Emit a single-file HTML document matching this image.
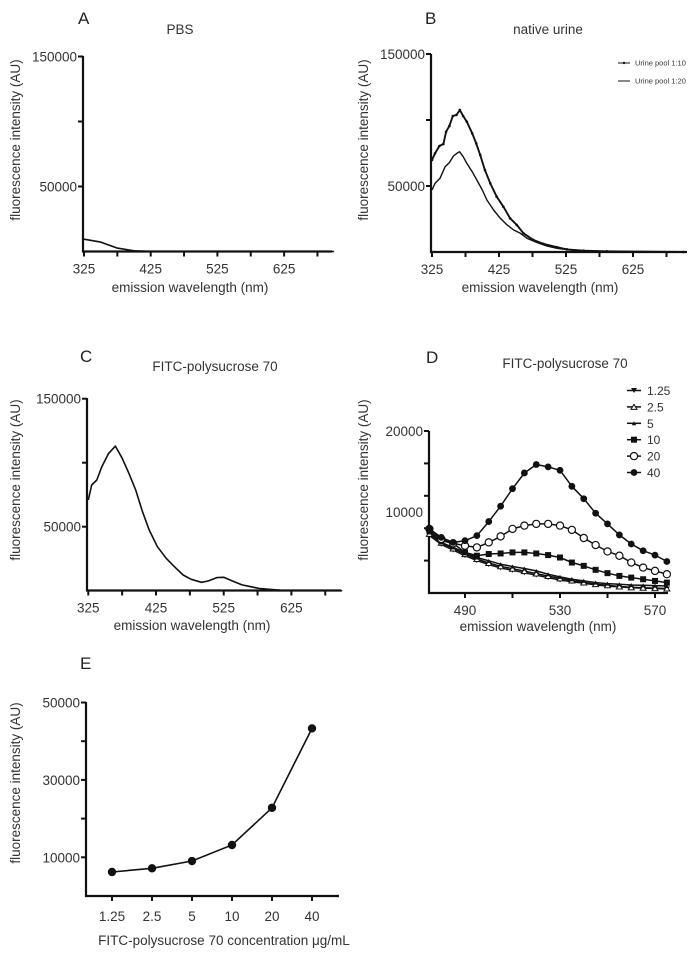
<!DOCTYPE html>
<html><head><meta charset="utf-8"><style>
html,body{margin:0;padding:0;background:#fff;}
svg{display:block;font-family:"Liberation Sans",Arial,sans-serif;}
.t{fill:#333;font-size:13.5px}
.tk{fill:#333;font-size:13.5px}
.pl{fill:#222;font-size:17px}
.lg{fill:#333;font-size:12px}
.lgs{fill:#333;font-size:7.5px}
</style></head><body>
<svg id="fig" width="700" height="958" viewBox="0 0 700 958" xmlns="http://www.w3.org/2000/svg"></svg>
<script>
// ---- data ----
const A_nm = [325,350,375,400,425,450,500,600,700];
const A_val = [9500,7200,2600,500,100,0,0,0,0];
const B10_nm = [325,329.5,336,342,346,351,356,361.5,366.5,371.5,377,385,391,397,404,412,421.5,431.5,441.5,451.5,461.5,476.5,491.5,511.5,526.5,551.5,586,700];
const B10_val = [69700,74700,80300,81800,91100,95500,103000,103800,107600,103000,98700,89900,82300,73500,62100,52000,41900,34300,25500,20500,14200,9100,6100,3600,2000,1000,500,0];
const B20_nm = [325,329.5,337,344.5,351,357,362,366,371.5,377,385,392,400,407,417,427,437,447,457,467,482,497,511.5,531.5,561.5,700];
const B20_val = [47000,52000,55800,64600,67700,72700,74700,76000,72200,67200,60800,54500,47000,39400,31800,25500,20500,16700,14200,10400,7100,4500,2800,1500,500,0];
const C_nm = [325,330,337.6,345,355,365,375,385,395,405,415,427,440,452,465,477,492,502,515,525,537,552,565,577,592,617,700];
const C_val = [70900,82600,86500,96900,107300,113000,103400,91700,78700,61700,47400,34400,25300,18800,12300,8900,6600,7600,10200,10500,7800,4500,3100,1800,1100,0,0];
const D_nm = [475,480,485,490,495,500,505,510,515,520,525,530,535,540,545,550,555,560,565,570,575];
const D_labels = ["1.25","2.5","5","10","20","40"];
const D_s125 = [7100,6000,5300,4600,4000,3500,3100,2800,2500,2200,1900,1600,1400,1200,1000,850,750,650,600,550,500];
const D_s25 = [7300,6200,5500,4800,4200,3700,3300,3000,2700,2400,2100,1800,1550,1300,1100,950,800,700,650,600,550];
const D_s5 = [7490,6250,5630,5010,4380,3970,3560,3270,3020,2730,2320,1990,1700,1490,1280,1160,1080,990,960,910,870];
const D_s10 = [7700,6460,6120,5010,4600,4810,4880,5010,5010,4880,4680,4380,3760,3350,2860,2450,2110,1900,1700,1490,1280];
const D_s20 = [7910,6670,6120,5840,5630,6250,6990,7910,8320,8530,8530,8320,7790,6790,5920,5130,4600,3760,3140,2730,2320];
const D_s40 = [7910,6870,6250,6460,7080,8820,10720,12880,14820,15860,15570,15150,13170,11640,9850,8530,7170,6050,5220,4680,3890];
const E_cats = ["1.25","2.5","5","10","20","40"];
const E_val = [6200,7150,9040,13180,22800,43300];

const svg = document.getElementById('fig');
const NS = 'http://www.w3.org/2000/svg';
function mk(tag, attrs, parent){ const e=document.createElementNS(NS,tag); for(const k in attrs) e.setAttribute(k,attrs[k]); (parent||svg).appendChild(e); return e; }
function txt(x,y,s,cls,anchor,name,parent,rot){ const e=mk('text',{x:x,y:y,class:cls,'text-anchor':anchor||'middle'},parent); if(rot) e.setAttribute('transform','rotate(-90 '+x+' '+y+')'); e.textContent=s;


return e; }
function lin(d0,d1,p0,p1){ return v => p0 + (v-d0)/(d1-d0)*(p1-p0); }

function marker(g,type,x,y,name){
  let e;
  if(type==='tdown') e=mk('path',{d:`M${x-3},${y-2.5}L${x+3},${y-2.5}L${x},${y+2.5}Z`,fill:'#111'},g);
  else if(type==='tup') e=mk('path',{d:`M${x-3},${y+2.5}L${x+3},${y+2.5}L${x},${y-2.5}Z`,fill:'#fff',stroke:'#111','stroke-width':1},g);
  else if(type==='tsmall') e=mk('path',{d:`M${x-2.2},${y+2}L${x+2.2},${y+2}L${x},${y-2}Z`,fill:'#111'},g);
  else if(type==='sq') e=mk('rect',{x:x-3,y:y-3,width:6,height:6,fill:'#111'},g);
  else if(type==='oc') e=mk('circle',{cx:x,cy:y,r:3.6,fill:'#fff',stroke:'#111','stroke-width':1.2},g);
  else if(type==='fc') e=mk('circle',{cx:x,cy:y,r:3.4,fill:'#111'},g);
  else if(type==='dot') e=mk('circle',{cx:x,cy:y,r:1.3,fill:'#111'},g);
  else if(type==='big') e=mk('circle',{cx:x,cy:y,r:4.2,fill:'#111'},g);
  
  
}

// generic spectrum panel
function panel(cfg){
  const g=mk('g',{});
  
  
  const X=lin(cfg.xd[0],cfg.xd[1],cfg.xp[0],cfg.xp[1]);
  const Y=lin(cfg.yd[0],cfg.yd[1],cfg.yp[0],cfg.yp[1]);
  txt(cfg.letterX,cfg.letterY,cfg.letter,'pl','start','panel-letter',g);
  txt(cfg.titleX,cfg.titleY,cfg.title,'t','middle','panel-title',g);
  // axes
  const ax=mk('path',{d:`M${cfg.axX},${cfg.yTop}L${cfg.axX},${cfg.axY}L${cfg.axEnd},${cfg.axY}`,fill:'none',stroke:'#111','stroke-width':2.2},g);
  
  
  cfg.yticks.forEach(v=>{ const y=Y(v); mk('line',{x1:cfg.axX-5,x2:cfg.axX,y1:y,y2:y,stroke:'#111','stroke-width':2},g); });
  cfg.ylabels.forEach(v=>txt(cfg.axX-6,Y(v)+5,String(v),'tk','end','y-tick-label',g));
  cfg.xticks.forEach(v=>{ const x=X(v); mk('line',{x1:x,x2:x,y1:cfg.axY,y2:cfg.axY+5,stroke:'#111','stroke-width':2},g); });
  cfg.xlabels.forEach(v=>txt(X(v),cfg.axY+22,String(v),'tk','middle','x-tick-label',g));
  txt(cfg.xtX,cfg.xtY,'emission wavelength (nm)','t','middle','x-axis-title',g);
  txt(cfg.ytX,cfg.ytY,'fluorescence intensity (AU)','t','middle','y-axis-title',g,true);
  cfg.series.forEach(s=>{
    const d=s.x.map((v,i)=>(i?'L':'M')+X(v).toFixed(1)+','+Y(s.y[i]).toFixed(1)).join('');
    const p=mk('path',{d:d,fill:'none',stroke:'#111','stroke-width':s.w||1.6,'stroke-linejoin':'round'},g);
    
    
    if(s.m) s.x.forEach((v,i)=>marker(g,s.m,X(v),Y(s.y[i]),s.name+'-point'));
  });
  return {g,X,Y};
}

const spectTicks=[325,375,425,475,525,575,625,675];
const spectLabels=[325,425,525,625];

panel({name:'panel-a-pbs',letter:'A',letterX:78,letterY:24,title:'PBS',titleX:180,titleY:34,
  xd:[325,425],xp:[84,150.7],yd:[0,150000],yp:[251.5,56.5],axX:83,axY:251.5,yTop:56,axEnd:332,
  yticks:[50000,100000,150000],ylabels:[50000,150000],xticks:spectTicks,xlabels:spectLabels,
  xtX:190,xtY:292,ytX:20,ytY:140,
  series:[{x:A_nm,y:A_val,name:'pbs-line'}]});

const pb=panel({name:'panel-b-native-urine',letter:'B',letterX:425,letterY:24,title:'native urine',titleX:548,titleY:34,
  xd:[325,425],xp:[432,499],yd:[0,150000],yp:[252,54],axX:431,axY:252,yTop:54,axEnd:687,
  yticks:[50000,100000,150000],ylabels:[50000,150000],xticks:spectTicks,xlabels:spectLabels,
  xtX:540,xtY:292,ytX:368,ytY:140,
  series:[{x:B10_nm,y:B10_val,name:'urine-1-10-line',w:1.9,m:'dot'},{x:B20_nm,y:B20_val,name:'urine-1-20-line',w:1.4}]});
// legend B
[['Urine pool 1:10',63,true],['Urine pool 1:20',81,false]].forEach((r,i)=>{
  const lg=mk('g',{});
  
  
  mk('line',{x1:618,x2:630,y1:r[1],y2:r[1],stroke:'#111','stroke-width':1},lg);
  if(r[2]) mk('circle',{cx:624,cy:r[1],r:1.2,fill:'#111'},lg);
  txt(635,r[1]+2.5,r[0],'lgs','start','legend-label',lg);
});

panel({name:'panel-c-fitc',letter:'C',letterX:80,letterY:362,title:'FITC-polysucrose 70',titleX:215,titleY:371,
  xd:[325,425],xp:[88.3,156],yd:[0,150000],yp:[590.7,398.7],axX:87,axY:590.5,yTop:398,axEnd:341,
  yticks:[50000,100000,150000],ylabels:[50000,150000],xticks:spectTicks,xlabels:spectLabels,
  xtX:192,xtY:630,ytX:20,ytY:480,
  series:[{x:C_nm,y:C_val,name:'fitc-spectrum-line'}]});

const Dseries=[D_s125,D_s25,D_s5,D_s10,D_s20,D_s40];
const Dmk=['tdown','tup','tsmall','sq','oc','fc'];
panel({name:'panel-d-fitc-concentrations',letter:'D',letterX:426,letterY:363,title:'FITC-polysucrose 70',titleX:565,titleY:368,
  xd:[490,530],xp:[465,560],yd:[0,20000],yp:[593,431],axX:429,axY:593,yTop:431,axEnd:668,
  yticks:[4000,8000,12000,16000,20000],ylabels:[10000,20000],xticks:[490,510,530,550,570],xlabels:[490,530,570],
  xtX:538,xtY:631,ytX:368,ytY:480,
  series:Dseries.map((s,i)=>({x:D_nm,y:s,name:'series-'+D_labels[i].replace('.','-'),m:Dmk[i],w:1.5}))});
D_labels.forEach((l,i)=>{
  const y=390.5+i*16.4;
  const lg=mk('g',{});
  
  
  mk('line',{x1:627,x2:641,y1:y,y2:y,stroke:'#111','stroke-width':1.5},lg);
  marker(lg,Dmk[i],634,y,'legend-marker');
  txt(647,y+4.5,l,'lg','start','legend-label',lg);
});

// panel E
(function(){
  const g=mk('g',{});
  
  
  const Y=lin(0,50000,896,702.5);
  const X=i=>112+i*40;
  txt(80,669,'E','pl','start','panel-letter',g);
  const ax=mk('path',{d:'M86,702L86,896L339,896',fill:'none',stroke:'#111','stroke-width':2.2},g);
  
  
  [10000,20000,30000,40000,50000].forEach(v=>mk('line',{x1:81,x2:86,y1:Y(v),y2:Y(v),stroke:'#111','stroke-width':2},g));
  [10000,30000,50000].forEach(v=>txt(80,Y(v)+5,String(v),'tk','end','y-tick-label',g));
  E_cats.forEach((c,i)=>{ mk('line',{x1:X(i),x2:X(i),y1:896,y2:901,stroke:'#111','stroke-width':2},g); txt(X(i),921,c,'tk','middle','x-tick-label',g); });
  txt(224,945,'FITC-polysucrose 70 concentration \u03bcg/mL','t','middle','x-axis-title',g);
  txt(20,783,'fluorescence intensity (AU)','t','middle','y-axis-title',g,true);
  const d=E_val.map((v,i)=>(i?'L':'M')+X(i)+','+Y(v).toFixed(1)).join('');
  const p=mk('path',{d:d,fill:'none',stroke:'#111','stroke-width':1.6},g);
  
  
  E_val.forEach((v,i)=>marker(g,'big',X(i),Y(v),'point-'+E_cats[i]));
})();
</script>
</body></html>
